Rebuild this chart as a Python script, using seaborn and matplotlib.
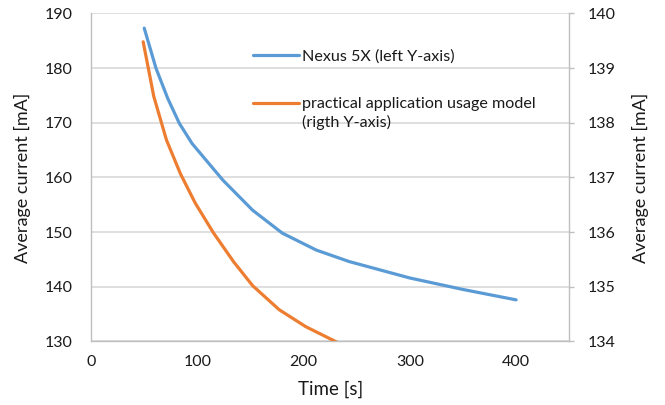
import matplotlib
matplotlib.use('Agg')
import matplotlib.pyplot as plt
from matplotlib.legend_handler import HandlerLine2D
import seaborn as sns
import numpy as np
import pandas as pd

# values
nexus_time = [50, 61, 72, 83, 95, 124, 152, 180, 212, 243, 300, 350, 400]
nexus_ma = [187.3, 180.0, 174.5, 169.9, 166.2, 159.5, 154.0, 149.8, 146.7, 144.6, 141.6, 139.5, 137.6]

model_time = [49, 59, 71, 84, 98, 115, 134, 152, 177, 202, 233, 250]
model_ma = [139.48, 138.48, 137.68, 137.07, 136.53, 135.99, 135.46, 135.02, 134.58, 134.27, 133.97, 133.85]

left_ticks = [130, 140, 150, 160, 170, 180, 190]
right_ticks = [134, 135, 136, 137, 138, 139, 140]
x_ticks = [0, 100, 200, 300, 400]

label_blue = 'Nexus 5X (left Y-axis)'
label_orange = 'practical application usage model\n(rigth Y-axis)'

nexus = pd.DataFrame({'time': nexus_time, 'current': nexus_ma})
model = pd.DataFrame({'time': model_time, 'current': model_ma})

sns.set_style('white')
plt.rcParams['font.family'] = ['Lato', 'DejaVu Sans']
txt = '#1a1a1a'
grid_c = '#d9d9d9'
axis_c = '#bfbfbf'
leg_size = 11.6
leg_linespacing = 1.3


class HandlerFirstLine(HandlerLine2D):
    # put the legend line next to the first text line, as Excel does
    def __init__(self, shift, **kw):
        super().__init__(**kw)
        self.shift = shift

    def create_artists(self, legend, orig_handle, xdescent, ydescent, width, height, fontsize, trans):
        arts = super().create_artists(legend, orig_handle, xdescent, ydescent, width, height, fontsize, trans)
        for a in arts:
            a.set_ydata(np.asarray(a.get_ydata()) + self.shift)
        return arts


fig = plt.figure(figsize=(6.65, 4.05), dpi=100)
ax = fig.add_axes([0.137, 0.157, 0.719, 0.81])
ax2 = ax.twinx()

sns.lineplot(data=nexus, x='time', y='current', ax=ax, color='#5B9BD5', linewidth=2.3,
             legend=False, solid_capstyle='round', solid_joinstyle='round')
sns.lineplot(data=model, x='time', y='current', ax=ax2, color='#ED7D31', linewidth=2.3,
             legend=False, solid_capstyle='round', solid_joinstyle='round')

ax.set_xlim(0, 450)
ax.set_ylim(130, 190)
ax2.set_ylim(134, 140)
ax.set_xticks(x_ticks)
ax.set_yticks(left_ticks)
ax2.set_yticks(right_ticks)

ax.grid(axis='y', color=grid_c, linewidth=1.2)
ax.set_axisbelow(True)
for a in (ax, ax2):
    for s in a.spines.values():
        s.set_visible(False)
ax.spines['left'].set_visible(True)
ax.spines['bottom'].set_visible(True)
ax2.spines['right'].set_visible(True)
for s in (ax.spines['left'], ax.spines['bottom'], ax2.spines['right']):
    s.set_color(axis_c)
    s.set_linewidth(1.0)

ax.tick_params(axis='y', length=0, labelsize=11.5, colors=txt, pad=13)
ax.tick_params(axis='x', length=0, labelsize=11.5, colors=txt, pad=9.5)
ax2.tick_params(axis='y', length=3.6, width=1.0, labelsize=11.5, labelcolor=txt, color=axis_c, pad=10)

ax.set_xlabel('Time [s]', fontsize=13.5, color=txt, labelpad=9)
ax.set_ylabel('Average current [mA]', fontsize=13, color=txt, labelpad=10)
ax2.set_ylabel('Average current [mA]', fontsize=13, color=txt, labelpad=11.5)

h1 = ax.get_lines()[0]
h2 = ax2.get_lines()[0]
leg = ax.legend([h1, h2], [label_blue, label_orange], loc='upper left',
                bbox_to_anchor=(0.339, 0.889), frameon=False, fontsize=leg_size,
                handlelength=2.86, handletextpad=0.2, labelspacing=2.05,
                borderpad=0, borderaxespad=0,
                handler_map={h2: HandlerFirstLine(shift=leg_linespacing * leg_size / 2)})
for t in leg.get_texts():
    t.set_color(txt)
    t.set_linespacing(leg_linespacing)

fig.savefig('out.png', dpi=100)
